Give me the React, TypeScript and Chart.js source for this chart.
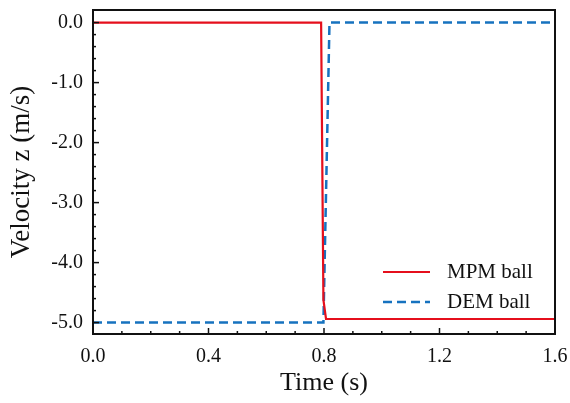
import React, { useEffect, useRef } from "react";
import { Chart, registerables } from "chart.js";

Chart.register(...registerables);

const mpmTime = [0, 0.79, 0.798, 0.807, 1.6];
const mpmVel = [0, 0, -4.62, -4.94, -4.94];
const demTime = [0, 0.798, 0.819, 1.6];
const demVel = [-5, -5, 0, 0];
const xTicks = [0, 0.4, 0.8, 1.2, 1.6];
const yTicks = [0, -1, -2, -3, -4, -5];
const seriesNames = ["MPM ball", "DEM ball"];

const RED = "#e50f1c";
const BLUE = "#1672bf";
const FONT = "'Liberation Serif', 'Times New Roman', serif";

const framePlugin = {
  id: "frame",
  afterDraw(chart: any) {
    const { ctx, chartArea, scales } = chart;
    const { left, right, top, bottom } = chartArea;
    ctx.save();
    ctx.strokeStyle = "#111";
    ctx.lineWidth = 2;
    ctx.beginPath();
    ctx.moveTo(left, top);
    ctx.lineTo(right, top);
    ctx.lineTo(right, bottom);
    ctx.lineTo(left, bottom);
    ctx.closePath();
    ctx.stroke();
    ctx.lineWidth = 1.5;
    const x = scales.x;
    const y = scales.y;
    for (let i = 0; i <= 16; i++) {
      const v = i / 10;
      const px = x.getPixelForValue(v);
      const len = i % 4 === 0 ? 6 : 3;
      ctx.beginPath();
      ctx.moveTo(px, bottom);
      ctx.lineTo(px, bottom - len);
      ctx.stroke();
    }
    for (let i = 0; i <= 25; i++) {
      const v = -i / 5;
      const py = y.getPixelForValue(v);
      const len = i % 5 === 0 ? 6 : 3;
      ctx.beginPath();
      ctx.moveTo(left, py);
      ctx.lineTo(left + len, py);
      ctx.stroke();
    }
    const ds = chart.data.datasets;
    const lx = 383;
    const rows = [272, 302];
    ds.forEach((d: any, i: number) => {
      const yy = rows[i];
      ctx.strokeStyle = d.borderColor;
      ctx.lineWidth = d.borderWidth;
      ctx.setLineDash(d.borderDash || []);
      ctx.beginPath();
      ctx.moveTo(lx, yy);
      ctx.lineTo(lx + 47, yy);
      ctx.stroke();
      ctx.setLineDash([]);
      ctx.fillStyle = "#111";
      ctx.font = `21px ${FONT}`;
      ctx.textBaseline = "middle";
      ctx.textAlign = "left";
      ctx.fillText(d.label, 447, yy);
    });
    ctx.restore();
  },
};

export default function App() {
  const ref = useRef<HTMLCanvasElement>(null);
  useEffect(() => {
    if (!ref.current) return;
    const chart = new Chart(ref.current, {
      type: "line",
      data: {
        datasets: [
          {
            label: seriesNames[0],
            data: mpmTime.map((t, i) => ({ x: t, y: mpmVel[i] })),
            borderColor: RED,
            borderWidth: 2.2,
            pointRadius: 0,
            fill: false,
            tension: 0,
          },
          {
            label: seriesNames[1],
            data: demTime.map((t, i) => ({ x: t, y: demVel[i] })),
            borderColor: BLUE,
            borderWidth: 2.5,
            borderDash: [9, 5],
            pointRadius: 0,
            fill: false,
            tension: 0,
          },
        ],
      },
      options: {
        animation: false,
        responsive: false,
        devicePixelRatio: 1,
        layout: { padding: { top: 10, right: 15, left: 0, bottom: 0 } },
        plugins: { legend: { display: false }, tooltip: { enabled: false } },
        scales: {
          x: {
            type: "linear",
            min: 0,
            max: 1.6,
            afterFit: (s: any) => {
              s.height = 69;
              s.paddingLeft = 0;
              s.paddingRight = 0;
            },
            afterBuildTicks: (s: any) => {
              s.ticks = xTicks.map((v) => ({ value: v }));
            },
            grid: { display: false, drawTicks: false },
            border: { display: true, color: "#111", width: 2 },
            ticks: {
              padding: 11,
              color: "#111",
              font: { family: FONT, size: 20 },
              callback: (v: any) => Number(v).toFixed(1),
              maxRotation: 0,
            },
            title: {
              display: true,
              text: "Time (s)",
              color: "#111",
              font: { family: FONT, size: 26 },
              padding: { top: 0, bottom: 4 },
            },
          },
          y: {
            type: "linear",
            min: -5.19,
            max: 0.21,
            afterFit: (s: any) => {
              s.width = 93;
              s.paddingTop = 0;
              s.paddingBottom = 0;
            },
            afterBuildTicks: (s: any) => {
              s.ticks = yTicks.map((v) => ({ value: v }));
            },
            grid: { display: false, drawTicks: false },
            border: { display: true, color: "#111", width: 2 },
            ticks: {
              padding: 10,
              color: "#111",
              font: { family: FONT, size: 20 },
              callback: (v: any) => Number(v).toFixed(1),
            },
            title: {
              display: true,
              text: "Velocity z (m/s)",
              color: "#111",
              font: { family: FONT, size: 27 },
              padding: { top: 6, bottom: 0 },
            },
          },
        },
      },
      plugins: [framePlugin],
    });
    return () => chart.destroy();
  }, []);
  return (
    <div style={{ position: "absolute", left: 0, top: 0, width: 570, height: 403, background: "#fff" }}>
      <canvas ref={ref} width={570} height={403} />
    </div>
  );
}
